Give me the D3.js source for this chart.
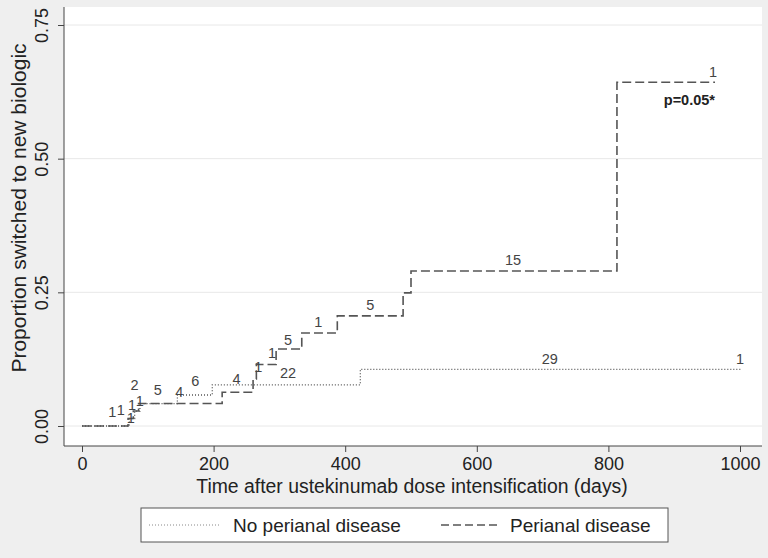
<!DOCTYPE html>
<html>
<head>
<meta charset="utf-8">
<script src="https://cdn.jsdelivr.net/npm/d3@7"></script>
<style>
  body { margin: 0; background: #efefef; }
  svg { display: block; font-family: "Liberation Sans", Arial, sans-serif; }
</style>
</head>
<body>
<div id="chart"></div>
<script>
// step curves: [time (days), cumulative proportion switched]
const perianal = [
  [0, 0], [70, 0.014], [78, 0.028], [86, 0.042], [213, 0.063], [260, 0.088],
  [265, 0.115], [295, 0.144], [334, 0.174], [388, 0.206], [488, 0.249],
  [500, 0.29], [813, 0.643], [962, 0.643]
];
const noPerianal = [
  [0, 0], [72, 0.014], [80, 0.028], [88, 0.042], [145, 0.058], [198, 0.077],
  [423, 0.106], [1003, 0.106]
];

// numbers printed along the curves: [time, proportion, text]
const curveLabels = [
  [46, 0.017, "1"], [59, 0.020, "1"], [74, 0.005, "1"], [76, 0.03, "1"],
  [80, 0.068, "2"], [88, 0.038, "1"], [115, 0.058, "5"], [148, 0.054, "4"],
  [172, 0.075, "6"], [235, 0.079, "4"], [268, 0.101, "1"], [313, 0.09, "22"],
  [289, 0.128, "1"], [313, 0.152, "5"], [359, 0.185, "1"], [438, 0.217, "5"],
  [655, 0.301, "15"], [959, 0.653, "1"], [711, 0.116, "29"], [1000, 0.116, "1"]
];

const xTicks = [0, 200, 400, 600, 800, 1000];
const yTicks = [0, 0.25, 0.5, 0.75];
const legendItems = ["No perianal disease", "Perianal disease"];

const width = 768, height = 558;
const plot = { left: 64, right: 762, top: 7, bottom: 446 };

const svg = d3.select("#chart").append("svg")
  .attr("width", width).attr("height", height);

svg.append("rect").attr("width", width).attr("height", height).attr("fill", "#efefef");
svg.append("rect")
  .attr("x", plot.left).attr("y", plot.top)
  .attr("width", plot.right - plot.left).attr("height", plot.bottom - plot.top)
  .attr("fill", "#fff");

const x = d3.scaleLinear().domain([0, 1000]).range([82, 740]);
const y = d3.scaleLinear().domain([0, 0.75]).range([426, 25]);

// grid lines
svg.append("g").selectAll("line").data(yTicks).join("line")
  .attr("x1", plot.left).attr("x2", plot.right)
  .attr("y1", d => y(d)).attr("y2", d => y(d))
  .attr("stroke", "#e8e8e8").attr("stroke-width", 1);

// y axis, labels turned vertical
const yAxis = svg.append("g")
  .attr("transform", `translate(${plot.left},0)`)
  .call(d3.axisLeft(y).tickValues(yTicks).tickFormat(d3.format(".2f")).tickSize(6));
yAxis.select(".domain").attr("d", `M0,${plot.top}V${plot.bottom}`).attr("stroke", "#444");
yAxis.selectAll(".tick line").attr("stroke", "#444");
yAxis.selectAll(".tick text")
  .attr("x", 0).attr("y", 0).attr("dy", 0)
  .attr("transform", "translate(-16,0) rotate(-90)")
  .attr("text-anchor", "middle")
  .attr("font-size", 18).attr("fill", "#222");

// x axis
const xAxis = svg.append("g")
  .attr("transform", `translate(0,${plot.bottom})`)
  .call(d3.axisBottom(x).tickValues(xTicks).tickFormat(d3.format("d")).tickSize(6));
xAxis.select(".domain").attr("d", `M${plot.left},0H${plot.right}`).attr("stroke", "#444");
xAxis.selectAll(".tick line").attr("stroke", "#444");
xAxis.selectAll(".tick text")
  .attr("y", 24).attr("dy", 0)
  .attr("font-size", 18).attr("fill", "#222");

// axis titles
svg.append("text")
  .attr("transform", "translate(26,208) rotate(-90)")
  .attr("text-anchor", "middle").attr("font-size", 21).attr("fill", "#222")
  .text("Proportion switched to new biologic");
svg.append("text")
  .attr("x", 412).attr("y", 493)
  .attr("text-anchor", "middle").attr("font-size", 19.4).attr("fill", "#222")
  .text("Time after ustekinumab dose intensification (days)");

// step curves
const line = d3.line().x(d => x(d[0])).y(d => y(d[1])).curve(d3.curveStepAfter);
svg.append("path").datum(noPerianal)
  .attr("d", line).attr("fill", "none")
  .attr("stroke", "#555").attr("stroke-width", 1.3).attr("stroke-dasharray", "1,2");
svg.append("path").datum(perianal)
  .attr("d", line).attr("fill", "none")
  .attr("stroke", "#555").attr("stroke-width", 1.6).attr("stroke-dasharray", "9,4");

// numbers on curves
svg.append("g").selectAll("text").data(curveLabels).join("text")
  .attr("x", d => x(d[0])).attr("y", d => y(d[1]))
  .attr("text-anchor", "middle").attr("font-size", 14.5).attr("fill", "#444")
  .text(d => d[2]);

svg.append("text")
  .attr("x", x(962)).attr("y", y(0.6))
  .attr("text-anchor", "end").attr("font-size", 14.5).attr("font-weight", "bold").attr("fill", "#222")
  .text("p=0.05*");

// legend
const lg = svg.append("g");
lg.append("rect").attr("x", 141).attr("y", 508).attr("width", 527).attr("height", 34)
  .attr("fill", "#fff").attr("stroke", "#555");
lg.append("line").attr("x1", 149).attr("x2", 220).attr("y1", 525).attr("y2", 525)
  .attr("stroke", "#888").attr("stroke-width", 1).attr("stroke-dasharray", "1,2");
lg.append("line").attr("x1", 441).attr("x2", 499).attr("y1", 525).attr("y2", 525)
  .attr("stroke", "#555").attr("stroke-width", 1.3).attr("stroke-dasharray", "8,4");
lg.selectAll("text.leg").data(legendItems).join("text").attr("class", "leg")
  .attr("x", (d, i) => i === 0 ? 233 : 510).attr("y", 532)
  .attr("font-size", 19).attr("fill", "#222")
  .text(d => d);
</script>
</body>
</html>
